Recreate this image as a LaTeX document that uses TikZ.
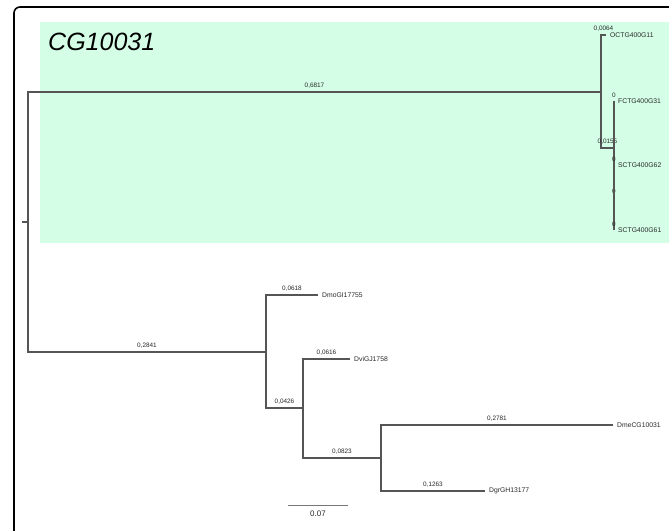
\documentclass[tikz,border=0pt]{standalone}
\usepackage{fontspec}
\setmainfont{Liberation Sans}
\definecolor{cladefill}{RGB}{212,255,230}
\definecolor{branchcol}{RGB}{85,85,85}
\definecolor{textcol}{RGB}{40,40,40}
\tikzset{
  branch/.style={draw=branchcol, line width=1.2pt},
  blen/.style={font=\fontsize{6.4}{7}\selectfont, text=textcol, anchor=south, inner sep=0pt, yshift=3pt},
  leaf/.style={font=\fontsize{6.8}{8}\selectfont, text=textcol, anchor=west, inner sep=0pt, xshift=4pt},
}
\begin{document}
\begin{tikzpicture}[x=1pt,y=-1pt]
\useasboundingbox (0,0) rectangle (669,530);
\clip (0,0) rectangle (669,530);
% clade background
\fill[cladefill] (40,22) rectangle (669,243);
% frame
\draw[black, line width=1.6pt, rounded corners=6pt] (14,7) rectangle (690,550);
% title
\node[anchor=west, inner sep=0pt, font=\fontsize{25}{28}\selectfont\itshape] (title) at (48,42) {CG10031};

% coordinates
\coordinate (stub) at (22,222);
\coordinate (root) at (28,222);
\coordinate (nA) at (601,92);
\coordinate (tOC) at (606,35);
\coordinate (nB) at (614,148);
\coordinate (tFC) at (614,101);
\coordinate (nC) at (614,197);
\coordinate (tS62) at (614,165);
\coordinate (tS61) at (614,230);
\coordinate (nD) at (266,352);
\coordinate (tDmo) at (318,295);
\coordinate (nE) at (303,408);
\coordinate (tDvi) at (350,359);
\coordinate (nF) at (381,458);
\coordinate (tDme) at (613,425);
\coordinate (tDgr) at (485,491);

% branches
\draw[branch] (stub) -- (root);
\draw[branch] (root) |- (nA) node[blen, pos=0.75] {0,6817};
\draw[branch] (root) |- (nD) node[blen, pos=0.75] {0,2841};
\draw[branch] (nA) |- (tOC) node[blen, pos=0.75] {0,0064};
\draw[branch] (nA) |- (nB) node[blen, pos=0.75] {0,0155};
\draw[branch] (nB) |- (tFC) node[blen, pos=1] {0};
\draw[branch] (nB) |- (nC) node[blen, pos=1] {0};
\draw[branch] (nC) |- (tS62) node[blen, pos=1] {0};
\draw[branch] (nC) |- (tS61) node[blen, pos=1] {0};
\draw[branch] (nD) |- (tDmo) node[blen, pos=0.75] {0,0618};
\draw[branch] (nD) |- (nE) node[blen, pos=0.75] {0,0426};
\draw[branch] (nE) |- (tDvi) node[blen, pos=0.75] {0,0616};
\draw[branch] (nE) |- (nF) node[blen, pos=0.75] {0,0823};
\draw[branch] (nF) |- (tDme) node[blen, pos=0.75] {0,2781};
\draw[branch] (nF) |- (tDgr) node[blen, pos=0.75] {0,1263};

% leaf names
\node[leaf] (lOC) at (tOC) {OCTG400G11};
\node[leaf] (lFC) at (tFC) {FCTG400G31};
\node[leaf] (lS62) at (tS62) {SCTG400G62};
\node[leaf] (lS61) at (tS61) {SCTG400G61};
\node[leaf] (lDmo) at (tDmo) {DmoGI17755};
\node[leaf] (lDvi) at (tDvi) {DviGJ1758};
\node[leaf] (lDme) at (tDme) {DmeCG10031};
\node[leaf] (lDgr) at (tDgr) {DgrGH13177};

% scale bar
\coordinate (sbL) at (288,505);
\coordinate (sbR) at (348,505);
\draw[draw=branchcol!80, line width=1pt] (sbL) -- (sbR) node[midway, below=5pt, inner sep=0pt, font=\fontsize{8}{9}\selectfont, text=textcol] (sblab) {0.07};
\end{tikzpicture}
\end{document}
